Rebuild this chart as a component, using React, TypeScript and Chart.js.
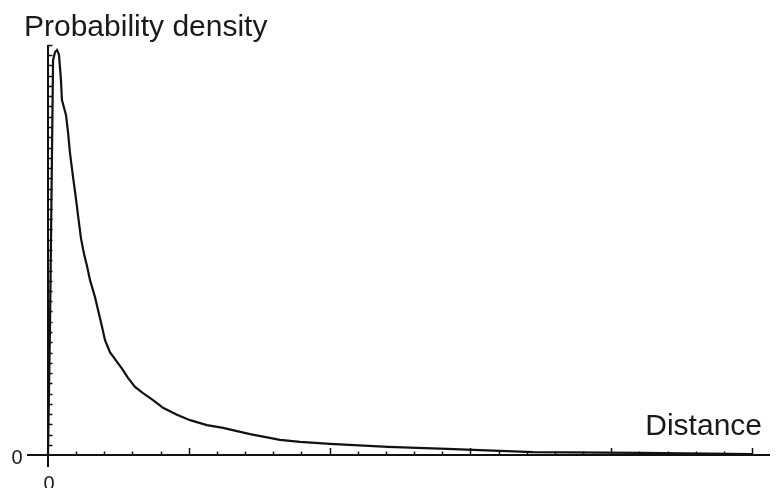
import React, { useEffect, useRef } from "react";
import { Chart, registerables } from "chart.js";

Chart.register(...registerables);

// Distance values (x) and probability density values (y)
const distance: number[] = [
  0, 0.014, 0.036, 0.05, 0.064, 0.078, 0.092, 0.099, 0.128, 0.142, 0.156, 0.178,
  0.199, 0.213, 0.234, 0.256, 0.277, 0.298, 0.334, 0.355, 0.384, 0.405, 0.44,
  0.49, 0.533, 0.568, 0.618, 0.675, 0.746, 0.817, 0.916, 1.009, 1.129, 1.243,
  1.435, 1.648, 1.79, 2.003, 2.415, 2.834, 3.445, 4.205, 5.0,
];
const density: number[] = [
  0, 0.31, 0.963, 0.983, 0.988, 0.976, 0.915, 0.866, 0.829, 0.788, 0.737, 0.678,
  0.624, 0.585, 0.529, 0.49, 0.461, 0.427, 0.385, 0.354, 0.312, 0.28, 0.251,
  0.227, 0.207, 0.188, 0.166, 0.151, 0.134, 0.115, 0.098, 0.085, 0.073, 0.066,
  0.051, 0.037, 0.032, 0.027, 0.02, 0.015, 0.007, 0.005, 0.002,
];

const xMax = 5;
const yMax = 1;
const xMinorStep = 0.2;
const xMajorStep = 1;
const yMinorStep = 0.025;

const yTitle = "Probability density";
const xTitle = "Distance";
const zeroLabel = "0";

const axesPlugin = {
  id: "customAxes",
  afterDraw(chart: any) {
    const ctx = chart.ctx as CanvasRenderingContext2D;
    const xs = chart.scales.x;
    const ys = chart.scales.y;
    const x0 = xs.getPixelForValue(0);
    const y0 = ys.getPixelForValue(0);
    const xEnd = xs.getPixelForValue(xMax);
    const yTop = ys.getPixelForValue(yMax);
    ctx.save();
    ctx.strokeStyle = "#111";
    ctx.lineWidth = 2;
    ctx.lineCap = "butt";
    // x axis
    ctx.beginPath();
    ctx.moveTo(x0 - 21, y0);
    ctx.lineTo(xEnd + 18, y0);
    ctx.stroke();
    // y axis
    ctx.beginPath();
    ctx.moveTo(x0, y0 + 12);
    ctx.lineTo(x0, yTop);
    ctx.stroke();
    // x ticks
    ctx.lineWidth = 1.5;
    const nx = Math.round(xMax / xMinorStep);
    for (let i = 1; i <= nx; i++) {
      const v = i * xMinorStep;
      const px = Math.round(xs.getPixelForValue(v)) + 0.5;
      const major = Math.abs(v / xMajorStep - Math.round(v / xMajorStep)) < 1e-6;
      ctx.beginPath();
      ctx.moveTo(px, y0);
      ctx.lineTo(px, y0 - (major ? 7 : 3.5));
      ctx.stroke();
    }
    // y ticks
    const ny = Math.round(yMax / yMinorStep);
    for (let i = 1; i <= ny; i++) {
      const py = Math.round(ys.getPixelForValue(i * yMinorStep)) + 0.5;
      ctx.beginPath();
      ctx.moveTo(x0, py);
      ctx.lineTo(x0 + 4.5, py);
      ctx.stroke();
    }
    // labels
    ctx.fillStyle = "#1a1a1a";
    ctx.font = "30px 'Liberation Sans', Arial, sans-serif";
    ctx.textBaseline = "alphabetic";
    ctx.textAlign = "left";
    ctx.fillText(yTitle, 24, 36);
    ctx.textAlign = "right";
    ctx.fillText(xTitle, 762, 435);
    ctx.font = "20px 'Liberation Sans', Arial, sans-serif";
    ctx.textAlign = "center";
    ctx.textBaseline = "middle";
    ctx.fillText(zeroLabel, 17, y0 + 3);
    ctx.textBaseline = "alphabetic";
    ctx.fillText(zeroLabel, x0 + 1, 490);
    ctx.restore();
  },
};

export default function App() {
  const canvasRef = useRef<HTMLCanvasElement | null>(null);

  useEffect(() => {
    const canvas = canvasRef.current;
    if (!canvas) return;
    const points = distance.map((d, i) => ({ x: d, y: density[i] }));
    const chart = new Chart(canvas, {
      type: "line",
      data: {
        datasets: [
          {
            data: points,
            borderColor: "#111",
            borderWidth: 2.2,
            pointRadius: 0,
            tension: 0,
            fill: false,
            clip: false as any,
          },
        ],
      },
      options: {
        animation: false,
        responsive: false,
        maintainAspectRatio: false,
        layout: { padding: { left: 48, right: 24, top: 45, bottom: 33 } },
        plugins: {
          legend: { display: false },
          tooltip: { enabled: false },
          title: { display: false },
        },
        scales: {
          x: { type: "linear", min: 0, max: xMax, display: false },
          y: { type: "linear", min: 0, max: yMax, display: false },
        },
      },
      plugins: [axesPlugin],
    });
    return () => chart.destroy();
  }, []);

  return (
    <div
      style={{
        position: "fixed",
        left: 0,
        top: 0,
        width: 776,
        height: 488,
        background: "#fff",
      }}
    >
      <canvas ref={canvasRef} width={776} height={488} style={{ width: 776, height: 488 }} />
    </div>
  );
}
